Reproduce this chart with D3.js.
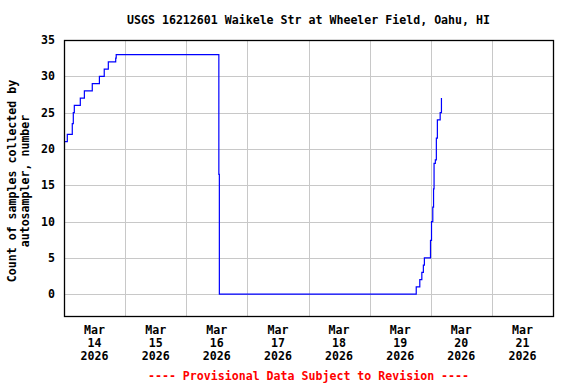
<!DOCTYPE html>
<html>
<head>
<meta charset="utf-8">
<script src="https://cdn.jsdelivr.net/npm/d3@7"></script>
<style>
  body { margin: 0; background: #fff; }
  svg { display: block; }
  text { font-family: "DejaVu Sans Mono", "Liberation Mono", monospace; font-weight: bold; font-size: 11.6px; }
</style>
</head>
<body>
<svg id="chart" width="576" height="384"></svg>
<script>
'use strict';

// Sample count readings (UTC times used as local station time).
var times = [
  '2026-03-14T00:00', '2026-03-14T01:18', '2026-03-14T03:15', '2026-03-14T03:39',
  '2026-03-14T04:03', '2026-03-14T06:24', '2026-03-14T08:00', '2026-03-14T11:06',
  '2026-03-14T13:54', '2026-03-14T15:48', '2026-03-14T17:24', '2026-03-14T20:18',
  '2026-03-14T20:30', '2026-03-16T12:48', '2026-03-16T13:00', '2026-03-19T18:18',
  '2026-03-19T19:42', '2026-03-19T20:30', '2026-03-19T21:06', '2026-03-19T21:30',
  '2026-03-19T23:54', '2026-03-20T00:18', '2026-03-20T00:48', '2026-03-20T01:06',
  '2026-03-20T01:18', '2026-03-20T01:48', '2026-03-20T02:12', '2026-03-20T02:36',
  '2026-03-20T03:42', '2026-03-20T04:12'
];
var counts = [
  21, 22, 23.5, 25,
  26, 27, 28, 29,
  30, 31, 32, 32.5,
  33, 16.5, 0, 1,
  2, 3, 4, 5,
  7.4, 10, 12, 14.5,
  18, 18.5, 21.5, 24,
  25, 27
];

var yTicks = [0, 5, 10, 15, 20, 25, 30, 35];
var dayTicks = ['2026-03-14', '2026-03-15', '2026-03-16', '2026-03-17',
  '2026-03-18', '2026-03-19', '2026-03-20', '2026-03-21'];

var title = 'USGS 16212601 Waikele Str at Wheeler Field, Oahu, HI';
var yTitle = ['Count of samples collected by', 'autosampler, number'];
var footer = '---- Provisional Data Subject to Revision ----';

var parseTime = d3.utcParse('%Y-%m-%dT%H:%M');
var parseDay = d3.utcParse('%Y-%m-%d');

var data = times.map(function(t, i) {
  return { date: parseTime(t), value: counts[i] };
});

var margin = { top: 40, right: 23, bottom: 68, left: 64 };
var width = 576 - margin.left - margin.right;
var height = 384 - margin.top - margin.bottom;

var svg = d3.select('#chart');
var g = svg.append('g')
  .attr('transform', 'translate(' + margin.left + ',' + margin.top + ')');

var x = d3.scaleUtc()
  .domain([parseDay('2026-03-14'), parseDay('2026-03-22')])
  .range([0, width]);

var y = d3.scaleLinear()
  .domain([-3, 35])
  .range([height, 0]);

// Grid lines.
var days = dayTicks.map(parseDay);
g.append('g')
  .selectAll('line')
  .data(days.slice(1))
  .enter().append('line')
  .attr('x1', function(d) { return Math.round(x(d)) + 0.5; })
  .attr('x2', function(d) { return Math.round(x(d)) + 0.5; })
  .attr('y1', 0)
  .attr('y2', height)
  .attr('stroke', '#c8c8c8');

g.append('g')
  .selectAll('line')
  .data(yTicks.filter(function(d) { return d < 35; }))
  .enter().append('line')
  .attr('x1', 0)
  .attr('x2', width)
  .attr('y1', function(d) { return Math.round(y(d)) + 0.5; })
  .attr('y2', function(d) { return Math.round(y(d)) + 0.5; })
  .attr('stroke', '#c8c8c8');

// Data line.
var line = d3.line()
  .x(function(d) { return x(d.date); })
  .y(function(d) { return y(d.value); })
  .curve(d3.curveStepAfter);

g.append('path')
  .datum(data)
  .attr('fill', 'none')
  .attr('stroke', '#0000ff')
  .attr('stroke-width', 1.2)
  .attr('d', line);

// Frame.
g.append('rect')
  .attr('x', 0.5)
  .attr('y', 0.5)
  .attr('width', width)
  .attr('height', height)
  .attr('fill', 'none')
  .attr('stroke', '#000')
  .attr('stroke-width', 1.3);

// Y tick labels.
g.append('g')
  .selectAll('text')
  .data(yTicks)
  .enter().append('text')
  .attr('x', -9)
  .attr('y', function(d) { return y(d); })
  .attr('dy', '0.35em')
  .attr('text-anchor', 'end')
  .text(function(d) { return d; });

// X tick labels, centered on each day.
var xLab = g.append('g')
  .selectAll('text')
  .data(days)
  .enter().append('text')
  .attr('text-anchor', 'middle')
  .attr('transform', function(d) {
    return 'translate(' + x(d3.utcHour.offset(d, 12)) + ',' + (height + 18) + ')';
  });
xLab.append('tspan').attr('x', 0).attr('y', 0).text(function(d) { return d3.utcFormat('%b')(d); });
xLab.append('tspan').attr('x', 0).attr('y', 13).text(function(d) { return d3.utcFormat('%d')(d); });
xLab.append('tspan').attr('x', 0).attr('y', 26).text(function(d) { return d3.utcFormat('%Y')(d); });

// Title.
svg.append('text')
  .attr('x', margin.left + width / 2)
  .attr('y', 24)
  .attr('text-anchor', 'middle')
  .text(title);

// Y axis title.
var yt = svg.append('text')
  .attr('text-anchor', 'middle')
  .attr('transform', 'translate(16,' + (margin.top + height / 2 + 3) + ') rotate(-90)');
yt.selectAll('tspan')
  .data(yTitle)
  .enter().append('tspan')
  .attr('x', 0)
  .attr('y', function(d, i) { return i * 13; })
  .text(function(d) { return d; });

// Footer.
svg.append('text')
  .attr('x', margin.left + width / 2)
  .attr('y', 380)
  .attr('text-anchor', 'middle')
  .attr('fill', '#ff0000')
  .text(footer);
</script>
</body>
</html>
